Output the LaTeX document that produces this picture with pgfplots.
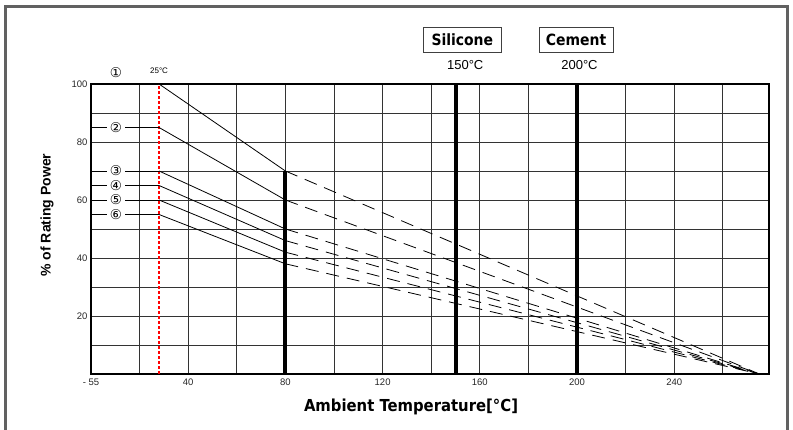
\documentclass[border=0pt]{standalone}
\usepackage{pgfplots}
\pgfplotsset{compat=1.18}
\usepackage{fontspec}
\setmainfont{Liberation Sans}
\newfontfamily\dvc{DejaVu Sans Condensed}
\newfontfamily\dv{DejaVu Sans}
\tikzset{circ/.style={fill=white, font=\dv\fontsize{13.5bp}{13.5bp}\selectfont, inner xsep=3bp, inner ysep=0pt}}
\begin{document}
\begin{tikzpicture}
\useasboundingbox (0,0) rectangle (793bp,430bp);
\draw[line width=3bp, black!62] (5.5bp,-5bp) -- (5.5bp,423.5bp) -- (787.5bp,423.5bp) -- (787.5bp,-5bp);
\begin{axis}[
 at={(91bp,56bp)}, anchor=south west,
 scale only axis, width=678bp, height=290bp,
 xmin=0, xmax=279, ymin=0, ymax=100,
 xtick={0,40,...,240}, xticklabels={- 55,40,80,120,160,200,240},
 ytick={20,40,...,100}, yticklabels={20,40,60,80,100},
 minor xtick={20,60,...,260}, minor ytick={10,30,...,90},
 grid=both,
 major grid style={black!80, line width=0.9bp},
 minor grid style={black!80, line width=0.9bp},
 major tick length=0pt, minor tick length=0pt,
 axis line style={line width=1.6bp},
 tick label style={font=\fontsize{9.5bp}{11bp}\selectfont, text=black!85},
 xticklabel style={yshift=-1bp},
 clip=false,
 xlabel={Ambient Temperature[°C]},
 ylabel={\% of Rating Power},
 xlabel style={font=\dvc\bfseries\fontsize{16.5bp}{18bp}\selectfont, at={(axis description cs:0.472,-0.114)}, anchor=center},
 ylabel style={font=\bfseries\fontsize{14bp}{16bp}\selectfont, at={(axis description cs:-0.065,0.548)}, anchor=center},
]
% thick reference lines
\addplot[black, line width=4bp] coordinates {(80,0) (80,70)};
\addplot[black, line width=4bp] coordinates {(150,0) (150,100)};
\addplot[black, line width=4bp] coordinates {(200,0) (200,100)};
% 25 C red dashed line
\addplot[color=red, line width=1.2bp, dash pattern=on 3bp off 2bp] coordinates {(28,0) (28,100)};
% legend leader lines
\addplot[black, line width=0.8bp] coordinates {(0,85) (28,85)};
\addplot[black, line width=0.8bp] coordinates {(0,70) (28,70)};
\addplot[black, line width=0.8bp] coordinates {(0,65) (28,65)};
\addplot[black, line width=0.8bp] coordinates {(0,60) (28,60)};
\addplot[black, line width=0.8bp] coordinates {(0,55) (28,55)};
% derating curves: solid part
\addplot[black, line width=0.8bp] coordinates {(28,100) (80,70)};
\addplot[black, line width=0.8bp] coordinates {(28,85) (80,60)};
\addplot[black, line width=0.8bp] coordinates {(28,70) (80,50)};
\addplot[black, line width=0.8bp] coordinates {(28,65) (80,46)};
\addplot[black, line width=0.8bp] coordinates {(28,60) (80,42)};
\addplot[black, line width=0.8bp] coordinates {(28,55) (80,38)};
% dashed part
\addplot[black, line width=0.8bp, dash pattern=on 13bp off 8bp] coordinates {(80,70) (275,0)};
\addplot[black, line width=0.8bp, dash pattern=on 13bp off 8bp] coordinates {(80,60) (275,0)};
\addplot[black, line width=0.8bp, dash pattern=on 13bp off 8bp] coordinates {(80,50) (275,0)};
\addplot[black, line width=0.8bp, dash pattern=on 13bp off 8bp] coordinates {(80,46) (275,0)};
\addplot[black, line width=0.8bp, dash pattern=on 13bp off 8bp] coordinates {(80,42) (275,0)};
\addplot[black, line width=0.8bp, dash pattern=on 13bp off 8bp] coordinates {(80,38) (275,0)};
% circled labels
\node[circ, fill=none] at (axis cs:10.3,103.8) {①};
\node[circ] at (axis cs:10.3,85) {②};
\node[circ] at (axis cs:10.3,70) {③};
\node[circ] at (axis cs:10.3,65) {④};
\node[circ] at (axis cs:10.3,60) {⑤};
\node[circ] at (axis cs:10.3,55) {⑥};
\node[font=\fontsize{8bp}{9bp}\selectfont] at (axis cs:28,104.5) {25°C};
% material boxes
\node[draw=black!75, line width=0.8bp, minimum width=78bp, minimum height=25bp, inner sep=0pt, font=\dvc\bfseries\fontsize{15.5bp}{17bp}\selectfont] at (axis cs:152.8,115.3) {Silicone};
\node[font=\fontsize{13bp}{15bp}\selectfont] at (axis cs:154,106.5) {150°C};
\node[draw=black!75, line width=0.8bp, minimum width=74bp, minimum height=25bp, inner sep=0pt, font=\dvc\bfseries\fontsize{15.5bp}{17bp}\selectfont] at (axis cs:199.6,115.3) {Cement};
\node[font=\fontsize{13bp}{15bp}\selectfont] at (axis cs:201,106.5) {200°C};
\end{axis}
\end{tikzpicture}
\end{document}
